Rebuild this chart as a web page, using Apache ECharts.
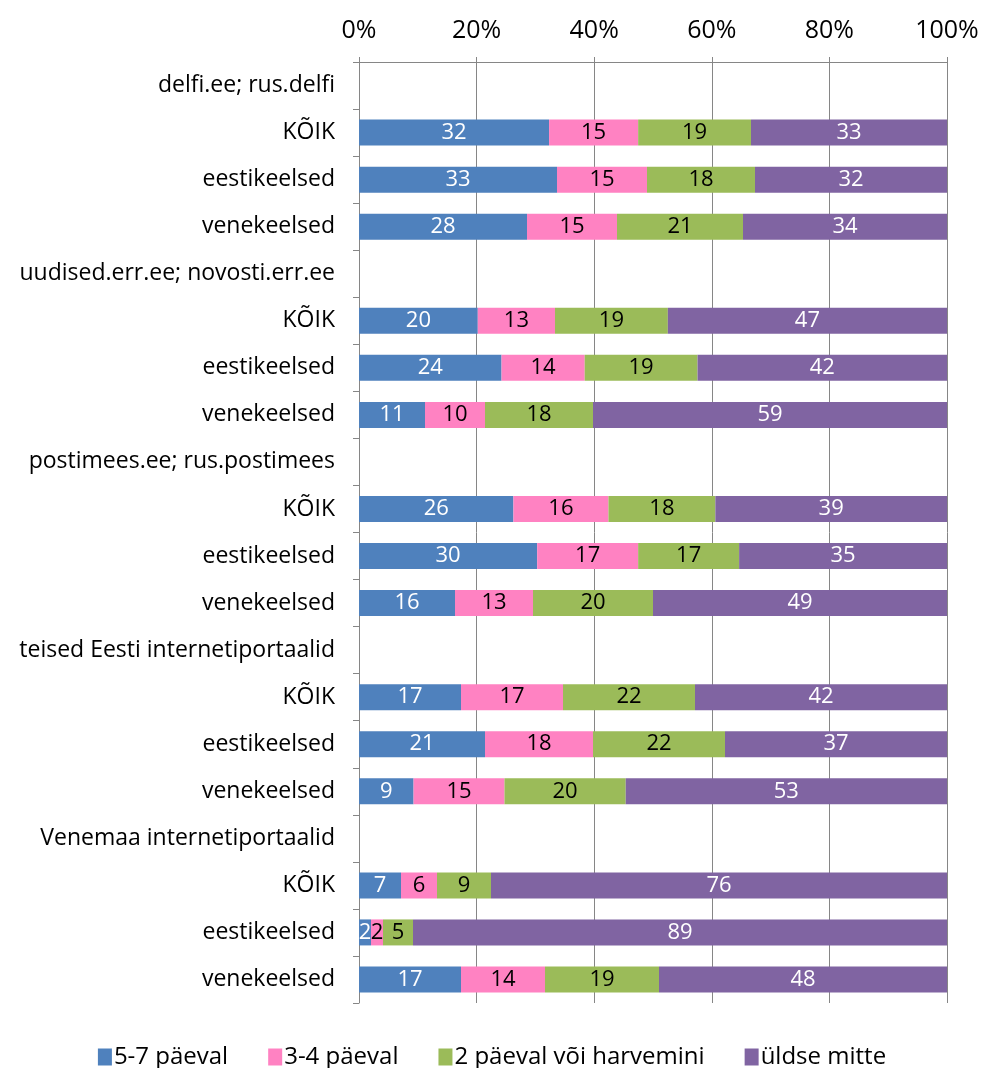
<!DOCTYPE html>
<html><head><meta charset="utf-8">
<script src="https://cdn.jsdelivr.net/npm/echarts@6/dist/echarts.min.js"></script>
<style>html,body{margin:0;padding:0;background:#fff}#c{width:984px;height:1068px}</style>
</head><body><div id="c"></div>
<script>
const categories = [
  "delfi.ee; rus.delfi","KÕIK","eestikeelsed","venekeelsed",
  "uudised.err.ee; novosti.err.ee","KÕIK","eestikeelsed","venekeelsed",
  "postimees.ee; rus.postimees","KÕIK","eestikeelsed","venekeelsed",
  "teised Eesti internetiportaalid","KÕIK","eestikeelsed","venekeelsed",
  "Venemaa internetiportaalid","KÕIK","eestikeelsed","venekeelsed"
];
const seriesNames = ["5-7 päeval","3-4 päeval","2 päeval või harvemini","üldse mitte"];
const s57    = [null,32,33,28, null,20,24,11, null,26,30,16, null,17,21,9,  null,7,2,17];
const s34    = [null,15,15,15, null,13,14,10, null,16,17,13, null,17,18,15, null,6,2,14];
const s2     = [null,19,18,21, null,19,19,18, null,18,17,20, null,22,22,20, null,9,5,19];
const sNone  = [null,33,32,34, null,47,42,59, null,39,35,49, null,42,37,53, null,76,89,48];
const xTicks = [0,20,40,60,80,100];

const raw = [s57,s34,s2,sNone];
const colors = ["#4F81BD","#FF82C2","#9BBB59","#8064A2"];
const labelColors = ["#fff","#000","#000","#fff"];
const totals = categories.map((c,i)=>raw.reduce((a,s)=>a+(s[i]||0),0));
const FONT = "'Open Sans', 'Noto Sans', sans-serif";

const series = raw.map((arr,k)=>({
  name: seriesNames[k], type:'bar', stack:'t', barWidth:26,
  itemStyle:{color:colors[k]},
  data: arr.map((v,i)=> v==null ? null : {value: v/totals[i]*100, raw:v}),
  label:{show:true, position:'inside', color:labelColors[k], fontSize:22, fontFamily:FONT,
    formatter:p=>p.data? p.data.raw : ''}
}));

const chart = echarts.init(document.getElementById('c'), null, {renderer:'canvas'});
chart.setOption({
  animation:false,
  grid:{left:359, right:37, top:62, bottom:65, containLabel:false},
  legend:{bottom:-6, left:'center', itemWidth:14, itemHeight:17, itemGap:40, icon:'rect',
    textStyle:{fontSize:24, fontFamily:FONT, color:'#000', padding:[0,0,0,-3]}, data:seriesNames},
  xAxis:{type:'value', position:'top', min:0, max:100, interval:20,
    axisLabel:{formatter:'{value}%', fontSize:25, fontFamily:FONT, color:'#000', margin:19},
    axisLine:{show:true, lineStyle:{color:'#868686'}},
    axisTick:{show:true, length:5, lineStyle:{color:'#868686'}},
    splitLine:{show:true, lineStyle:{color:'#868686', width:1}}},
  yAxis:{type:'category', inverse:true, data:categories,
    axisLabel:{fontSize:23, fontFamily:FONT, color:'#000', margin:24},
    axisLine:{show:true, lineStyle:{color:'#868686'}},
    axisTick:{show:true, length:6, alignWithLabel:false, lineStyle:{color:'#868686'}}},
  series
});
</script></body></html>
